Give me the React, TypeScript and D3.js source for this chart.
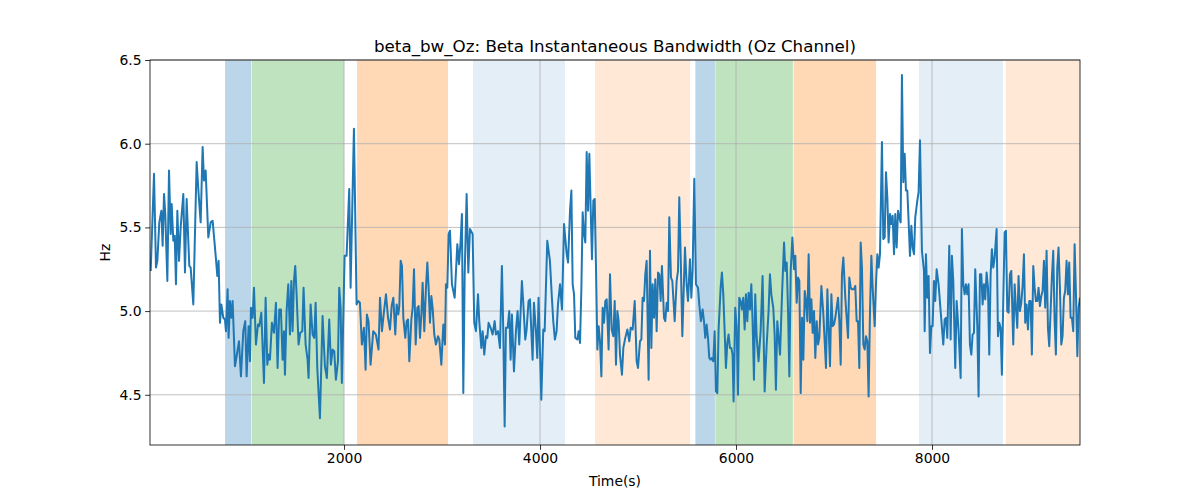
import React, { useEffect, useRef } from 'react';
import * as d3 from 'd3';

// [time (s), bandwidth (Hz)]
const bwSeries: [number, number][] = [
  [27, 5.24], [61, 5.82], [81, 5.26], [95, 5.3], [115, 5.53], [136, 5.6], [149, 5.39], [163, 5.7], [176, 5.58], [197, 5.18],
  [214, 5.84], [231, 5.46], [241, 5.64], [258, 5.42], [272, 5.45], [285, 5.16], [299, 5.6], [316, 5.3], [333, 5.5], [360, 5.7],
  [377, 5.23], [394, 5.67], [421, 5.27], [435, 5.26], [462, 5.04], [496, 5.89], [516, 5.7], [537, 5.53], [557, 5.98], [571, 5.78],
  [588, 5.84], [615, 5.44], [639, 5.53], [659, 5.54], [686, 5.36], [707, 5.21], [720, 5.3], [734, 4.93], [748, 5.04], [768, 4.96],
  [785, 4.95], [795, 4.88], [812, 5.13], [822, 4.84], [836, 5.06], [850, 4.96], [863, 5.06], [887, 4.67], [904, 4.73], [928, 4.82],
  [948, 4.61], [972, 4.88], [992, 4.94], [1006, 4.61], [1026, 4.91], [1040, 4.7], [1050, 5.02], [1067, 4.96], [1081, 5.14], [1101, 4.8],
  [1122, 4.92], [1135, 4.91], [1156, 4.99], [1183, 4.57], [1200, 5.08], [1217, 4.68], [1230, 4.74], [1244, 4.71], [1264, 4.93], [1285, 4.87],
  [1305, 5.05], [1322, 4.66], [1339, 5.01], [1356, 5.01], [1373, 4.71], [1387, 4.88], [1397, 4.62], [1414, 5.0], [1431, 5.16], [1448, 4.86],
  [1462, 5.18], [1475, 4.88], [1489, 5.18], [1502, 5.27], [1516, 5.1], [1536, 4.8], [1553, 4.87], [1574, 4.88], [1587, 5.14], [1608, 4.8],
  [1628, 4.71], [1638, 4.6], [1659, 5.04], [1679, 4.86], [1696, 4.84], [1710, 5.05], [1727, 4.66], [1754, 4.36], [1781, 4.97], [1805, 4.67],
  [1825, 4.6], [1849, 4.95], [1866, 4.68], [1883, 4.77], [1900, 4.76], [1917, 4.59], [1938, 4.7], [1951, 5.14], [1965, 5.02], [1978, 4.57],
  [2006, 5.33], [2026, 5.33], [2053, 5.73], [2067, 5.14], [2101, 6.09], [2128, 5.04], [2145, 5.06], [2162, 5.05], [2182, 4.8], [2203, 4.9],
  [2220, 4.65], [2233, 4.98], [2250, 4.94], [2271, 4.68], [2298, 4.88], [2325, 4.86], [2352, 4.77],
  [2367, 5.08], [2387, 4.88], [2408, 5.0], [2428, 5.1], [2449, 4.96], [2469, 4.89], [2486, 5.03], [2503, 5.08], [2523, 4.86], [2537, 5.04],
  [2554, 4.98], [2564, 5.03], [2578, 5.3], [2591, 5.27], [2605, 4.96], [2625, 4.84], [2639, 4.94], [2653, 4.95], [2666, 4.7], [2687, 4.95],
  [2700, 5.02], [2714, 5.25], [2731, 4.8], [2748, 5.02], [2761, 5.03], [2775, 4.84], [2789, 4.98], [2802, 5.17], [2819, 4.88], [2836, 5.14],
  [2850, 5.29], [2863, 5.14], [2877, 4.93], [2891, 5.09], [2904, 5.02], [2921, 4.86], [2938, 4.8], [2959, 4.85], [2972, 4.83], [2993, 4.68],
  [3013, 4.92], [3030, 4.8], [3040, 5.16], [3054, 5.14], [3067, 5.46], [3081, 5.48], [3101, 5.16], [3129, 5.08], [3156, 5.4], [3173, 5.28],
  [3190, 5.42], [3203, 5.58], [3217, 4.51], [3231, 5.22], [3251, 5.7], [3268, 5.23], [3285, 5.49], [3312, 5.46], [3329, 4.93], [3346, 4.88],
  [3367, 5.1], [3380, 4.94], [3401, 4.78], [3414, 4.88], [3431, 4.74], [3448, 4.85], [3462, 4.84], [3475, 4.93], [3496, 4.9], [3516, 4.86],
  [3537, 4.94], [3550, 4.86], [3571, 4.88], [3591, 4.78], [3611, 5.27], [3625, 4.88], [3639, 4.31], [3652, 4.9], [3669, 4.9], [3686, 5.0],
  [3700, 4.71], [3713, 4.98], [3734, 4.64], [3754, 4.88], [3771, 5.0], [3788, 4.8], [3815, 5.18], [3829, 5.05], [3849, 4.83], [3863, 4.89],
  [3883, 5.06], [3897, 5.07], [3924, 4.71], [3938, 5.05], [3958, 4.88], [3972, 4.72], [3985, 5.08], [4013, 4.47], [4033, 4.89], [4047, 4.88],
  [4074, 5.42], [4101, 5.3], [4121, 5.08], [4135, 4.94], [4152, 4.83], [4169, 4.88], [4183, 5.04],
  [4204, 5.16], [4224, 5.01], [4245, 5.52], [4272, 5.34], [4286, 5.29], [4306, 5.6], [4320, 5.72], [4333, 5.16], [4347, 5.1], [4360, 4.84],
  [4381, 4.83], [4394, 4.88], [4408, 4.81], [4422, 5.14], [4435, 5.59], [4449, 5.46], [4462, 5.41], [4476, 5.95], [4490, 5.6], [4503, 5.94],
  [4517, 5.61], [4530, 5.31], [4544, 5.66], [4558, 5.67], [4571, 5.26], [4585, 4.77], [4598, 4.91], [4612, 4.82], [4626, 4.61], [4639, 5.02],
  [4653, 4.93], [4666, 5.06], [4680, 5.07], [4700, 4.77], [4714, 5.22], [4731, 4.89], [4748, 4.85], [4762, 5.06], [4775, 4.68], [4789, 5.0],
  [4802, 4.94], [4816, 4.74], [4836, 4.62], [4850, 4.78], [4870, 4.84], [4891, 4.89], [4911, 4.82], [4925, 4.9], [4945, 4.89], [4966, 5.06],
  [4986, 4.7], [5000, 4.66], [5020, 4.82], [5034, 4.83], [5047, 5.08], [5061, 5.06], [5074, 5.22], [5088, 5.3], [5108, 4.59], [5122, 5.36],
  [5136, 4.78], [5149, 5.16], [5163, 4.96], [5176, 5.19], [5190, 4.88], [5204, 5.23], [5217, 5.22], [5231, 5.06], [5244, 5.27], [5265, 4.96],
  [5278, 4.94], [5292, 5.05], [5306, 5.0], [5319, 5.56], [5336, 5.2], [5350, 5.18], [5360, 5.08], [5374, 4.94], [5394, 5.18], [5408, 5.24],
  [5421, 5.68], [5435, 5.34], [5452, 4.85], [5479, 5.38], [5496, 5.16], [5510, 5.06], [5530, 5.31], [5544, 5.08], [5557, 5.24], [5574, 5.79],
  [5591, 5.16], [5612, 5.14], [5625, 5.04], [5642, 4.94], [5659, 5.01], [5673, 4.94], [5686, 4.84], [5700, 4.92], [5714, 4.84], [5727, 4.72],
  [5741, 4.71], [5754, 4.72], [5768, 4.7], [5782, 4.88], [5795, 4.52], [5809, 4.51], [5822, 4.89], [5843, 5.14], [5856, 5.23], [5870, 5.1],
  [5884, 4.88], [5897, 4.66], [5911, 4.81], [5924, 4.86], [5938, 4.78], [5952, 4.78], [5965, 4.74], [5975, 4.46], [5992, 5.02], [6006, 4.91],
  [6020, 4.5], [6033, 5.08], [6047, 5.06], [6060, 5.01], [6074, 5.08], [6088, 4.89], [6101, 5.1], [6115, 4.94], [6128, 5.11], [6142, 5.01],
  [6156, 5.16], [6169, 4.94], [6183, 4.59], [6196, 5.1], [6210, 4.85], [6230, 4.7], [6251, 4.88], [6271, 5.21], [6292, 4.52], [6312, 4.79],
  [6332, 5.0], [6346, 5.22], [6360, 5.1], [6380, 5.02], [6394, 4.86], [6407, 4.53], [6421, 4.94],
  [6449, 4.74], [6469, 5.09], [6490, 5.41], [6503, 5.24], [6517, 5.29], [6531, 5.0], [6544, 4.61], [6558, 5.24], [6575, 5.44], [6592, 5.25],
  [6605, 5.33], [6619, 5.05], [6633, 5.2], [6646, 5.18], [6660, 4.51], [6673, 4.96], [6687, 4.71], [6701, 5.12], [6714, 5.06], [6728, 4.94],
  [6741, 5.34], [6755, 4.93], [6769, 5.07], [6782, 4.87], [6796, 5.0], [6809, 4.72], [6823, 4.94], [6837, 4.8], [6850, 4.84], [6871, 5.15],
  [6891, 4.98], [6918, 4.66], [6932, 5.13], [6945, 4.9], [6959, 4.67], [6973, 5.1], [6986, 4.91], [7000, 4.92], [7013, 4.96], [7027, 5.02],
  [7041, 5.08], [7054, 4.94], [7068, 4.68], [7081, 5.22], [7095, 5.32], [7115, 5.08], [7143, 4.84], [7156, 5.2], [7170, 5.14], [7183, 5.13],
  [7204, 5.13], [7217, 5.15], [7231, 4.94], [7245, 4.94], [7258, 4.66], [7272, 5.41], [7285, 5.26], [7299, 4.8], [7313, 4.77], [7326, 4.85],
  [7340, 4.82], [7353, 4.49], [7367, 5.0], [7381, 5.33], [7394, 5.14], [7415, 4.91], [7428, 5.16], [7442, 5.34], [7455, 5.26], [7469, 5.34],
  [7489, 6.01], [7503, 5.43], [7517, 5.44], [7530, 5.83], [7544, 5.68], [7557, 5.41], [7571, 5.58], [7585, 5.52], [7598, 5.57], [7612, 5.34],
  [7625, 5.58], [7639, 5.38], [7653, 5.6], [7666, 5.56], [7680, 5.53], [7693, 6.41], [7707, 5.77], [7721, 5.94], [7734, 5.72], [7748, 5.72],
  [7761, 5.54], [7775, 5.33], [7789, 5.51], [7802, 5.38], [7816, 5.34], [7829, 5.56], [7850, 5.66], [7863, 5.71], [7877, 6.02], [7897, 5.36],
  [7918, 5.24], [7925, 4.88], [7938, 5.34], [7952, 5.08], [7965, 5.21], [7979, 4.75], [7993, 4.91], [8006, 4.91], [8020, 5.18], [8033, 5.06],
  [8047, 5.25], [8067, 5.16], [8088, 5.0], [8115, 4.8], [8129, 4.95], [8142, 4.96], [8156, 4.84], [8176, 5.39], [8190, 4.83], [8203, 5.33],
  [8217, 5.18], [8237, 4.66], [8251, 5.06], [8271, 4.88], [8292, 4.6], [8305, 5.49], [8319, 5.16], [8333, 5.1], [8346, 5.16], [8360, 5.1],
  [8373, 5.16], [8387, 4.8], [8401, 4.74], [8414, 4.86], [8428, 4.87], [8441, 5.25], [8462, 4.91], [8475, 4.49], [8489, 5.22], [8503, 5.22],
  [8516, 5.04], [8530, 5.16], [8543, 5.07], [8557, 5.23], [8571, 5.14], [8584, 4.74], [8598, 5.22], [8611, 5.37], [8625, 5.26], [8639, 5.32],
  [8659, 5.49], [8673, 4.85], [8686, 4.93], [8700, 4.9], [8713, 4.62], [8727, 5.06], [8741, 5.47], [8754, 5.48], [8768, 5.0], [8781, 4.99],
  [8795, 5.22], [8809, 5.24], [8829, 4.8], [8843, 5.16], [8856, 5.02], [8870, 4.9], [8883, 5.21], [8897, 5.0], [8911, 5.05], [8924, 5.15],
  [8938, 5.34], [8951, 4.93], [8965, 5.04], [8979, 4.89], [8992, 5.06], [9006, 5.06], [9019, 4.74], [9033, 5.27], [9047, 5.14], [9060, 5.06],
  [9074, 5.06], [9087, 5.14], [9101, 5.03], [9115, 5.09], [9128, 5.12], [9142, 5.3], [9155, 5.02], [9169, 5.36], [9183, 4.9], [9196, 4.79],
  [9210, 5.0], [9223, 5.2], [9237, 5.36], [9251, 4.94], [9264, 4.74], [9278, 5.26], [9291, 5.38], [9305, 5.14], [9319, 4.8], [9332, 4.85],
  [9346, 5.08], [9359, 5.12], [9373, 5.3], [9387, 5.1], [9400, 5.29], [9414, 4.96], [9428, 4.96], [9441, 4.88], [9455, 5.4], [9469, 5.1],
  [9483, 4.73], [9496, 5.02], [9510, 5.08],
];

// shaded epochs: [start, end, colour, opacity]
const spanStarts = [786, 1058, 2133, 3316, 4561, 5585, 5789, 6587, 7867, 8752];
const spanEnds = [1052, 2000, 3061, 4255, 5531, 5785, 6580, 7429, 8724, 9520];
const spanColors = ['#1f77b4', '#2ca02c', '#ff7f0e', '#1f77b4', '#ff7f0e', '#1f77b4', '#2ca02c', '#ff7f0e', '#1f77b4', '#ff7f0e'];
const spanAlphas = [0.3, 0.3, 0.3, 0.12, 0.17, 0.3, 0.3, 0.3, 0.12, 0.17];

const xTicks = [2000, 4000, 6000, 8000];
const yTicks = [4.5, 5.0, 5.5, 6.0, 6.5];

const xDomain: [number, number] = [20, 9510];
const yDomain: [number, number] = [4.2, 6.5];

const App: React.FC = () => {
  const svgRef = useRef<SVGSVGElement | null>(null);

  useEffect(() => {
    if (!svgRef.current) return;
    const svg = d3.select(svgRef.current);
    svg.selectAll('*').remove();

    const width = 1200;
    const height = 500;
    const margin = { top: 60, right: 120, bottom: 55, left: 150 };
    const w = width - margin.left - margin.right;
    const h = height - margin.top - margin.bottom;
    const font = 'DejaVu Sans, sans-serif';

    svg.append('rect').attr('width', width).attr('height', height).attr('fill', '#fff');

    const g = svg.append('g').attr('transform', `translate(${margin.left},${margin.top})`);

    const x = d3.scaleLinear().domain(xDomain).range([0, w]);
    const y = d3.scaleLinear().domain(yDomain).range([h, 0]);

    g.append('defs').append('clipPath').attr('id', 'plot-clip')
      .append('rect').attr('width', w).attr('height', h);

    // shaded spans
    g.append('g').attr('clip-path', 'url(#plot-clip)')
      .selectAll('rect')
      .data(spanStarts.map((s, i) => ({ s, e: spanEnds[i], c: spanColors[i], a: spanAlphas[i] })))
      .enter()
      .append('rect')
      .attr('x', d => x(d.s))
      .attr('width', d => x(d.e) - x(d.s))
      .attr('y', 0)
      .attr('height', h)
      .attr('fill', d => d.c)
      .attr('fill-opacity', d => d.a);

    // grid
    g.append('g').selectAll('line.gx').data(xTicks).enter().append('line')
      .attr('x1', d => x(d)).attr('x2', d => x(d)).attr('y1', 0).attr('y2', h)
      .attr('stroke', '#b0b0b0').attr('stroke-width', 0.8);
    g.append('g').selectAll('line.gy').data(yTicks).enter().append('line')
      .attr('x1', 0).attr('x2', w).attr('y1', d => y(d)).attr('y2', d => y(d))
      .attr('stroke', '#b0b0b0').attr('stroke-width', 0.8);

    // line
    const line = d3.line<[number, number]>().x(d => x(d[0])).y(d => y(d[1]));
    g.append('path')
      .datum(bwSeries)
      .attr('clip-path', 'url(#plot-clip)')
      .attr('d', line)
      .attr('fill', 'none')
      .attr('stroke', '#1f77b4')
      .attr('stroke-width', 2)
      .attr('stroke-linejoin', 'round');

    // axes
    const xAxis = g.append('g')
      .attr('transform', `translate(0,${h})`)
      .call(d3.axisBottom(x).tickValues(xTicks).tickFormat(d3.format('d')).tickSize(4.9).tickPadding(3.5).tickSizeOuter(0));
    const yAxis = g.append('g')
      .call(d3.axisLeft(y).tickValues(yTicks).tickFormat(d3.format('.1f')).tickSize(4.9).tickPadding(3.5).tickSizeOuter(0));
    [xAxis, yAxis].forEach(a => {
      a.select('.domain').remove();
      a.selectAll('line').attr('stroke', '#000').attr('stroke-width', 0.8);
      a.selectAll('text').attr('font-family', font).attr('font-size', 13.9).attr('fill', '#000');
    });

    g.append('rect')
      .attr('width', w).attr('height', h)
      .attr('fill', 'none').attr('stroke', '#000').attr('stroke-width', 0.8);

    svg.append('text')
      .attr('x', margin.left + w / 2).attr('y', 52)
      .attr('text-anchor', 'middle')
      .attr('font-family', font).attr('font-size', 16.7)
      .text('beta_bw_Oz: Beta Instantaneous Bandwidth (Oz Channel)');

    svg.append('text')
      .attr('x', margin.left + w / 2).attr('y', 486)
      .attr('text-anchor', 'middle')
      .attr('font-family', font).attr('font-size', 13.9)
      .text('Time(s)');

    svg.append('text')
      .attr('transform', `translate(110,${margin.top + h / 2}) rotate(-90)`)
      .attr('text-anchor', 'middle')
      .attr('font-family', font).attr('font-size', 13.9)
      .text('Hz');
  }, []);

  return <svg ref={svgRef} width={1200} height={500} style={{ position: 'absolute', left: 0, top: 0 }}></svg>;
};

export default App;
